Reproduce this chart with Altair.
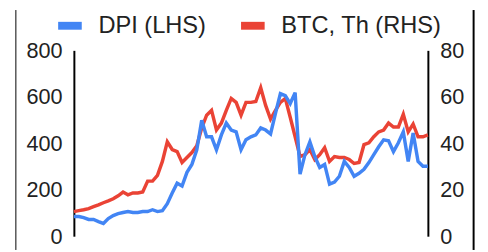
import altair as alt
import pandas as pd

dpi = [85, 85, 80, 72, 72, 63, 55, 76, 89, 97, 102, 106, 102, 102, 106, 106, 114, 106, 110, 140,
       186, 228, 216, 275, 309, 372, 499, 428, 428, 372, 436, 487, 457, 449, 372, 415, 428, 436,
       466, 457, 440, 529, 614, 605, 571, 618, 267, 351, 406, 343, 296, 309, 224, 233, 258, 322,
       296, 258, 271, 288, 317, 351, 385, 415, 411, 364, 402, 449, 322, 444, 322, 301, 301]
btc = [10.6, 11.0, 11.4, 11.9, 12.7, 13.5, 14.4, 15.2, 16.1, 17.4, 19.0, 17.8, 18.6, 18.6, 19.0,
       23.7, 23.7, 26.2, 32.2, 40.6, 37.3, 36.4, 31.7, 33.9, 36.0, 38.9, 46.6, 52.1, 54.2, 45.7,
       48.7, 54.2, 59.3, 57.6, 52.1, 57.6, 57.6, 58.0, 63.9, 56.3, 50.4, 54.2, 57.6, 59.3, 51.2,
       42.8, 34.3, 35.1, 37.3, 33.0, 35.1, 38.1, 32.2, 34.3, 33.9, 33.9, 33.0, 31.3, 31.7, 39.4,
       40.2, 42.8, 44.9, 45.7, 48.7, 47.0, 47.0, 52.5, 44.9, 48.3, 42.8, 42.8, 43.6]
series_names = ["DPI (LHS)", "BTC, Th (RHS)"]
series_colors = ["#4285F4", "#EA4335"]
left_ticks = [0, 200, 400, 600, 800]
right_ticks = [0, 20, 40, 60, 80]

n = len(dpi)
df = pd.DataFrame({"i": list(range(n)), "dpi": dpi, "btc": btc})

FONT = "Liberation Sans"
TXT = "#222222"

color = alt.Color(
    "series:N",
    scale=alt.Scale(domain=series_names, range=series_colors),
    legend=alt.Legend(
        title=None, orient="none", direction="horizontal",
        legendX=-20, legendY=-41, symbolType="stroke", symbolSize=576,
        symbolStrokeWidth=8, labelOffset=13, columnPadding=19, padding=0,
        labelFontSize=24, labelFont=FONT, labelColor=TXT, labelLimit=0,
    ),
)

x = alt.X("i:Q", scale=alt.Scale(domain=[0, n - 1], nice=False, zero=False), axis=None)

base_axis = dict(grid=False, ticks=False, tickSize=0, domainColor="black", domainWidth=2,
                 labelFontSize=22, labelFont=FONT, labelColor=TXT, labelPadding=12,
                 labelFlush=False, title=None)

blue = alt.Chart(df).transform_calculate(series="'DPI (LHS)'").mark_line(strokeWidth=3.5).encode(
    x=x,
    y=alt.Y("dpi:Q", scale=alt.Scale(domain=[0, 800], nice=False),
            axis=alt.Axis(orient="left", values=left_ticks, **base_axis)),
    color=color,
)
red = alt.Chart(df).transform_calculate(series="'BTC, Th (RHS)'").mark_line(strokeWidth=3.5).encode(
    x=x,
    y=alt.Y("btc:Q", scale=alt.Scale(domain=[0, 80], nice=False),
            axis=alt.Axis(orient="right", values=right_ticks, **base_axis)),
    color=color,
)

border_df = pd.DataFrame({"k": [0]})
left_border = alt.Chart(border_df).mark_rule(color="black", strokeWidth=1).encode(
    x=alt.value(-59), y=alt.value(-41), y2=alt.value(203))
right_border = alt.Chart(border_df).mark_rule(color="black", strokeWidth=2).encode(
    x=alt.value(406.5), y=alt.value(-41), y2=alt.value(203))

chart = alt.layer(red, blue, left_border, right_border).resolve_scale(y="independent").properties(
    width=360, height=189,
    autosize=alt.AutoSizeParams(type="none"),
    padding={"left": 67, "top": 41, "right": 53, "bottom": 14},
    background="white",
).configure_view(stroke=None)

chart.save("out.html", embed_options={"renderer": "svg", "actions": False})
